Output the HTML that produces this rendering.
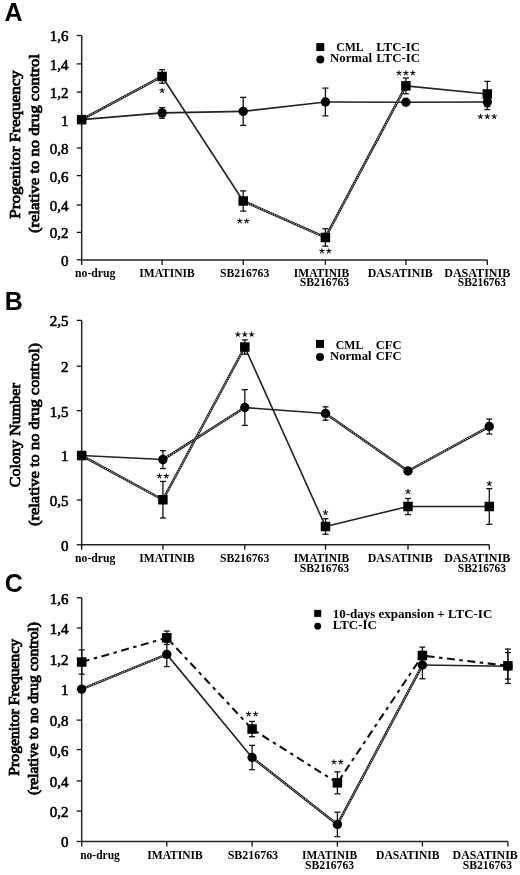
<!DOCTYPE html>
<html><head><meta charset="utf-8"><style>
html,body{margin:0;padding:0;background:#fff;}
body{width:520px;height:875px;overflow:hidden;}
svg{display:block;filter:grayscale(1);}
</style></head><body>
<svg width="520" height="875" viewBox="0 0 520 875">
<rect width="520" height="875" fill="#fff"/>
<text x="4.5" y="20.8" font-family='"Liberation Sans", sans-serif' font-size="25" font-weight="bold" text-anchor="start" >A</text><text x="4.8" y="310" font-family='"Liberation Sans", sans-serif' font-size="25" font-weight="bold" text-anchor="start" >B</text><text x="4.8" y="592" font-family='"Liberation Sans", sans-serif' font-size="25" font-weight="bold" text-anchor="start" >C</text><text transform="translate(19.6,144.4) rotate(-90)" x="0" y="0" font-family='"Liberation Serif", serif' font-size="15" font-weight="normal" stroke="#000" stroke-width="0.8" text-anchor="middle" textLength="148.5" lengthAdjust="spacingAndGlyphs">Progenitor Frequency</text><text transform="translate(39.0,143.6) rotate(-90)" x="0" y="0" font-family='"Liberation Serif", serif' font-size="15" font-weight="normal" stroke="#000" stroke-width="0.8" text-anchor="middle" textLength="179" lengthAdjust="spacingAndGlyphs">(relative to no drug control</text><text transform="translate(20.4,435.2) rotate(-90)" x="0" y="0" font-family='"Liberation Serif", serif' font-size="14.6" font-weight="normal" stroke="#000" stroke-width="0.8" text-anchor="middle" textLength="104" lengthAdjust="spacingAndGlyphs">Colony Number</text><text transform="translate(38.7,434.5) rotate(-90)" x="0" y="0" font-family='"Liberation Serif", serif' font-size="14.6" font-weight="normal" stroke="#000" stroke-width="0.8" text-anchor="middle" textLength="183" lengthAdjust="spacingAndGlyphs">(relative to no drug control)</text><text transform="translate(18.6,707.3) rotate(-90)" x="0" y="0" font-family='"Liberation Serif", serif' font-size="14.2" font-weight="normal" stroke="#000" stroke-width="0.8" text-anchor="middle" textLength="136.7" lengthAdjust="spacingAndGlyphs">Progenitor Frequency</text><text transform="translate(38.2,708.5) rotate(-90)" x="0" y="0" font-family='"Liberation Serif", serif' font-size="14.2" font-weight="normal" stroke="#000" stroke-width="0.8" text-anchor="middle" textLength="173" lengthAdjust="spacingAndGlyphs">(relative to no drug control)</text><line x1="81.7" y1="35.5" x2="81.7" y2="259.9" stroke="#222" stroke-width="1.5"/><line x1="80.95" y1="259.9" x2="487.3" y2="259.9" stroke="#222" stroke-width="1.5"/><line x1="76.7" y1="259.8" x2="81.7" y2="259.8" stroke="#111" stroke-width="1.3"/><text x="68.5" y="265.7" font-family='"Liberation Serif", serif' font-size="15" font-weight="normal" text-anchor="end" stroke="#000" stroke-width="0.55">0</text><line x1="76.7" y1="232.4" x2="81.7" y2="232.4" stroke="#111" stroke-width="1.3"/><text x="68.5" y="238.3" font-family='"Liberation Serif", serif' font-size="15" font-weight="normal" text-anchor="end" stroke="#000" stroke-width="0.55">0,2</text><line x1="76.7" y1="205.0" x2="81.7" y2="205.0" stroke="#111" stroke-width="1.3"/><text x="68.5" y="210.9" font-family='"Liberation Serif", serif' font-size="15" font-weight="normal" text-anchor="end" stroke="#000" stroke-width="0.55">0,4</text><line x1="76.7" y1="175.6" x2="81.7" y2="175.6" stroke="#111" stroke-width="1.3"/><text x="68.5" y="181.5" font-family='"Liberation Serif", serif' font-size="15" font-weight="normal" text-anchor="end" stroke="#000" stroke-width="0.55">0,6</text><line x1="76.7" y1="148.0" x2="81.7" y2="148.0" stroke="#111" stroke-width="1.3"/><text x="68.5" y="153.9" font-family='"Liberation Serif", serif' font-size="15" font-weight="normal" text-anchor="end" stroke="#000" stroke-width="0.55">0,8</text><line x1="76.7" y1="119.8" x2="81.7" y2="119.8" stroke="#111" stroke-width="1.3"/><text x="68.5" y="125.7" font-family='"Liberation Serif", serif' font-size="15" font-weight="normal" text-anchor="end" stroke="#000" stroke-width="0.55">1</text><line x1="76.7" y1="92.1" x2="81.7" y2="92.1" stroke="#111" stroke-width="1.3"/><text x="68.5" y="98.0" font-family='"Liberation Serif", serif' font-size="15" font-weight="normal" text-anchor="end" stroke="#000" stroke-width="0.55">1,2</text><line x1="76.7" y1="63.9" x2="81.7" y2="63.9" stroke="#111" stroke-width="1.3"/><text x="68.5" y="69.8" font-family='"Liberation Serif", serif' font-size="15" font-weight="normal" text-anchor="end" stroke="#000" stroke-width="0.55">1,4</text><line x1="76.7" y1="35.5" x2="81.7" y2="35.5" stroke="#111" stroke-width="1.3"/><text x="68.5" y="41.4" font-family='"Liberation Serif", serif' font-size="15" font-weight="normal" text-anchor="end" stroke="#000" stroke-width="0.55">1,6</text><line x1="81.7" y1="259.9" x2="81.7" y2="264.9" stroke="#111" stroke-width="1.3"/><line x1="162.1" y1="259.9" x2="162.1" y2="264.9" stroke="#111" stroke-width="1.3"/><line x1="243.2" y1="259.9" x2="243.2" y2="264.9" stroke="#111" stroke-width="1.3"/><line x1="325.4" y1="259.9" x2="325.4" y2="264.9" stroke="#111" stroke-width="1.3"/><line x1="405.9" y1="259.9" x2="405.9" y2="264.9" stroke="#111" stroke-width="1.3"/><line x1="487.3" y1="259.9" x2="487.3" y2="264.9" stroke="#111" stroke-width="1.3"/><path d="M81.70,119.65 L162.10,112.92" fill="none" stroke="#222" stroke-width="1.6" stroke-linejoin="round"/><path d="M162.10,112.92 L243.20,111.38" fill="none" stroke="#222" stroke-width="1.6" stroke-linejoin="round"/><path d="M243.20,111.38 L325.40,101.98" fill="none" stroke="#222" stroke-width="1.6" stroke-linejoin="round"/><path d="M325.40,101.98 L405.90,102.26" fill="none" stroke="#222" stroke-width="1.6" stroke-linejoin="round"/><path d="M405.90,102.26 L487.30,101.98" fill="none" stroke="#222" stroke-width="1.6" stroke-linejoin="round"/><path d="M162.10,76.45 L243.20,201.00" fill="none" stroke="#222" stroke-width="1.6" stroke-linejoin="round"/><path d="M405.90,85.85 L487.30,93.98" fill="none" stroke="#222" stroke-width="1.6" stroke-linejoin="round"/><path d="M81.70,119.65 L162.10,76.45" fill="none" stroke="#1a1a1a" stroke-width="2.5" stroke-linejoin="round"/><path d="M81.70,119.65 L162.10,76.45" fill="none" stroke="#fff" stroke-opacity="0.85" stroke-width="0.9" stroke-dasharray="1.3 1.1"/><path d="M243.20,201.00 L325.40,237.46" fill="none" stroke="#1a1a1a" stroke-width="2.5" stroke-linejoin="round"/><path d="M243.20,201.00 L325.40,237.46" fill="none" stroke="#fff" stroke-opacity="0.85" stroke-width="0.9" stroke-dasharray="1.3 1.1"/><path d="M325.40,237.46 L405.90,85.85" fill="none" stroke="#1a1a1a" stroke-width="2.5" stroke-linejoin="round"/><path d="M325.40,237.46 L405.90,85.85" fill="none" stroke="#fff" stroke-opacity="0.85" stroke-width="0.9" stroke-dasharray="1.3 1.1"/><line x1="162.1" y1="107.58850000000001" x2="162.1" y2="118.2475" stroke="#111" stroke-width="1.3"/><line x1="159.1" y1="107.58850000000001" x2="165.1" y2="107.58850000000001" stroke="#111" stroke-width="1.3"/><line x1="159.1" y1="118.2475" x2="165.1" y2="118.2475" stroke="#111" stroke-width="1.3"/><line x1="162.1" y1="69.721" x2="162.1" y2="83.185" stroke="#111" stroke-width="1.3"/><line x1="159.1" y1="69.721" x2="165.1" y2="69.721" stroke="#111" stroke-width="1.3"/><line x1="159.1" y1="83.185" x2="165.1" y2="83.185" stroke="#111" stroke-width="1.3"/><line x1="243.2" y1="97.35025000000002" x2="243.2" y2="125.40025" stroke="#111" stroke-width="1.3"/><line x1="240.2" y1="97.35025000000002" x2="246.2" y2="97.35025000000002" stroke="#111" stroke-width="1.3"/><line x1="240.2" y1="125.40025" x2="246.2" y2="125.40025" stroke="#111" stroke-width="1.3"/><line x1="243.2" y1="190.897" x2="243.2" y2="211.093" stroke="#111" stroke-width="1.3"/><line x1="240.2" y1="190.897" x2="246.2" y2="190.897" stroke="#111" stroke-width="1.3"/><line x1="240.2" y1="211.093" x2="246.2" y2="211.093" stroke="#111" stroke-width="1.3"/><line x1="325.4" y1="88.09375000000003" x2="325.4" y2="115.86325000000002" stroke="#111" stroke-width="1.3"/><line x1="322.4" y1="88.09375000000003" x2="328.4" y2="88.09375000000003" stroke="#111" stroke-width="1.3"/><line x1="322.4" y1="115.86325000000002" x2="328.4" y2="115.86325000000002" stroke="#111" stroke-width="1.3"/><line x1="325.4" y1="228.7645" x2="325.4" y2="246.1555" stroke="#111" stroke-width="1.3"/><line x1="322.4" y1="228.7645" x2="328.4" y2="228.7645" stroke="#111" stroke-width="1.3"/><line x1="322.4" y1="246.1555" x2="328.4" y2="246.1555" stroke="#111" stroke-width="1.3"/><line x1="405.9" y1="77.99574999999999" x2="405.9" y2="93.70375000000001" stroke="#111" stroke-width="1.3"/><line x1="402.9" y1="77.99574999999999" x2="408.9" y2="77.99574999999999" stroke="#111" stroke-width="1.3"/><line x1="402.9" y1="93.70375000000001" x2="408.9" y2="93.70375000000001" stroke="#111" stroke-width="1.3"/><line x1="487.3" y1="94.40500000000003" x2="487.3" y2="109.55200000000002" stroke="#111" stroke-width="1.3"/><line x1="484.3" y1="94.40500000000003" x2="490.3" y2="94.40500000000003" stroke="#111" stroke-width="1.3"/><line x1="484.3" y1="109.55200000000002" x2="490.3" y2="109.55200000000002" stroke="#111" stroke-width="1.3"/><line x1="487.3" y1="81.36175" x2="487.3" y2="106.60675" stroke="#111" stroke-width="1.3"/><line x1="484.3" y1="81.36175" x2="490.3" y2="81.36175" stroke="#111" stroke-width="1.3"/><line x1="484.3" y1="106.60675" x2="490.3" y2="106.60675" stroke="#111" stroke-width="1.3"/><circle cx="81.70" cy="119.65" r="4.7" fill="#000"/><rect x="76.95" y="114.90" width="9.5" height="9.5" fill="#000"/><circle cx="162.10" cy="112.92" r="4.7" fill="#000"/><rect x="157.35" y="71.70" width="9.5" height="9.5" fill="#000"/><circle cx="243.20" cy="111.38" r="4.7" fill="#000"/><rect x="238.45" y="196.25" width="9.5" height="9.5" fill="#000"/><circle cx="325.40" cy="101.98" r="4.7" fill="#000"/><rect x="320.65" y="232.71" width="9.5" height="9.5" fill="#000"/><circle cx="405.90" cy="102.26" r="4.7" fill="#000"/><rect x="401.15" y="81.10" width="9.5" height="9.5" fill="#000"/><circle cx="487.30" cy="101.98" r="4.7" fill="#000"/><rect x="482.55" y="89.23" width="9.5" height="9.5" fill="#000"/><path d="M162.10,90.60 L162.10,88.25 M162.10,90.60 L164.33,89.87 M162.10,90.60 L163.48,92.50 M162.10,90.60 L160.72,92.50 M162.10,90.60 L159.87,89.87 " stroke="#111" stroke-width="1.05" stroke-linecap="round" fill="none"/><path d="M239.75,221.00 L239.75,218.65 M239.75,221.00 L241.98,220.27 M239.75,221.00 L241.13,222.90 M239.75,221.00 L238.37,222.90 M239.75,221.00 L237.52,220.27 " stroke="#111" stroke-width="1.05" stroke-linecap="round" fill="none"/><path d="M246.65,221.00 L246.65,218.65 M246.65,221.00 L248.88,220.27 M246.65,221.00 L248.03,222.90 M246.65,221.00 L245.27,222.90 M246.65,221.00 L244.42,220.27 " stroke="#111" stroke-width="1.05" stroke-linecap="round" fill="none"/><path d="M321.95,251.00 L321.95,248.65 M321.95,251.00 L324.18,250.27 M321.95,251.00 L323.33,252.90 M321.95,251.00 L320.57,252.90 M321.95,251.00 L319.72,250.27 " stroke="#111" stroke-width="1.05" stroke-linecap="round" fill="none"/><path d="M328.85,251.00 L328.85,248.65 M328.85,251.00 L331.08,250.27 M328.85,251.00 L330.23,252.90 M328.85,251.00 L327.47,252.90 M328.85,251.00 L326.62,250.27 " stroke="#111" stroke-width="1.05" stroke-linecap="round" fill="none"/><path d="M399.00,73.00 L399.00,70.65 M399.00,73.00 L401.23,72.27 M399.00,73.00 L400.38,74.90 M399.00,73.00 L397.62,74.90 M399.00,73.00 L396.77,72.27 " stroke="#111" stroke-width="1.05" stroke-linecap="round" fill="none"/><path d="M405.90,73.00 L405.90,70.65 M405.90,73.00 L408.13,72.27 M405.90,73.00 L407.28,74.90 M405.90,73.00 L404.52,74.90 M405.90,73.00 L403.67,72.27 " stroke="#111" stroke-width="1.05" stroke-linecap="round" fill="none"/><path d="M412.80,73.00 L412.80,70.65 M412.80,73.00 L415.03,72.27 M412.80,73.00 L414.18,74.90 M412.80,73.00 L411.42,74.90 M412.80,73.00 L410.57,72.27 " stroke="#111" stroke-width="1.05" stroke-linecap="round" fill="none"/><path d="M480.40,116.50 L480.40,114.15 M480.40,116.50 L482.63,115.77 M480.40,116.50 L481.78,118.40 M480.40,116.50 L479.02,118.40 M480.40,116.50 L478.17,115.77 " stroke="#111" stroke-width="1.05" stroke-linecap="round" fill="none"/><path d="M487.30,116.50 L487.30,114.15 M487.30,116.50 L489.53,115.77 M487.30,116.50 L488.68,118.40 M487.30,116.50 L485.92,118.40 M487.30,116.50 L485.07,115.77 " stroke="#111" stroke-width="1.05" stroke-linecap="round" fill="none"/><path d="M494.20,116.50 L494.20,114.15 M494.20,116.50 L496.43,115.77 M494.20,116.50 L495.58,118.40 M494.20,116.50 L492.82,118.40 M494.20,116.50 L491.97,115.77 " stroke="#111" stroke-width="1.05" stroke-linecap="round" fill="none"/><line x1="81.7" y1="320.4" x2="81.7" y2="544.8" stroke="#222" stroke-width="1.5"/><line x1="80.95" y1="544.8" x2="489.3" y2="544.8" stroke="#222" stroke-width="1.5"/><line x1="76.7" y1="544.8" x2="81.7" y2="544.8" stroke="#111" stroke-width="1.3"/><text x="68.5" y="550.6999999999999" font-family='"Liberation Serif", serif' font-size="15" font-weight="normal" text-anchor="end" stroke="#000" stroke-width="0.6">0</text><line x1="76.7" y1="500.0" x2="81.7" y2="500.0" stroke="#111" stroke-width="1.3"/><text x="68.5" y="505.9" font-family='"Liberation Serif", serif' font-size="15" font-weight="normal" text-anchor="end" stroke="#000" stroke-width="0.6">0,5</text><line x1="76.7" y1="455.4" x2="81.7" y2="455.4" stroke="#111" stroke-width="1.3"/><text x="68.5" y="461.29999999999995" font-family='"Liberation Serif", serif' font-size="15" font-weight="normal" text-anchor="end" stroke="#000" stroke-width="0.6">1</text><line x1="76.7" y1="410.7" x2="81.7" y2="410.7" stroke="#111" stroke-width="1.3"/><text x="68.5" y="416.59999999999997" font-family='"Liberation Serif", serif' font-size="15" font-weight="normal" text-anchor="end" stroke="#000" stroke-width="0.6">1,5</text><line x1="76.7" y1="366.3" x2="81.7" y2="366.3" stroke="#111" stroke-width="1.3"/><text x="68.5" y="372.2" font-family='"Liberation Serif", serif' font-size="15" font-weight="normal" text-anchor="end" stroke="#000" stroke-width="0.6">2</text><line x1="76.7" y1="320.4" x2="81.7" y2="320.4" stroke="#111" stroke-width="1.3"/><text x="68.5" y="326.29999999999995" font-family='"Liberation Serif", serif' font-size="15" font-weight="normal" text-anchor="end" stroke="#000" stroke-width="0.6">2,5</text><line x1="81.7" y1="544.8" x2="81.7" y2="549.8" stroke="#111" stroke-width="1.3"/><line x1="162.9" y1="544.8" x2="162.9" y2="549.8" stroke="#111" stroke-width="1.3"/><line x1="244.8" y1="544.8" x2="244.8" y2="549.8" stroke="#111" stroke-width="1.3"/><line x1="325.5" y1="544.8" x2="325.5" y2="549.8" stroke="#111" stroke-width="1.3"/><line x1="408.0" y1="544.8" x2="408.0" y2="549.8" stroke="#111" stroke-width="1.3"/><line x1="489.3" y1="544.8" x2="489.3" y2="549.8" stroke="#111" stroke-width="1.3"/><path d="M81.70,455.55 L162.90,459.57" fill="none" stroke="#222" stroke-width="1.6" stroke-linejoin="round"/><path d="M244.80,407.53 L325.50,413.51" fill="none" stroke="#222" stroke-width="1.6" stroke-linejoin="round"/><path d="M162.90,459.57 L244.80,407.53" fill="none" stroke="#1a1a1a" stroke-width="2.5" stroke-linejoin="round"/><path d="M162.90,459.57 L244.80,407.53" fill="none" stroke="#fff" stroke-opacity="0.85" stroke-width="0.9" stroke-dasharray="1.3 1.1"/><path d="M325.50,413.51 L408.00,470.99" fill="none" stroke="#1a1a1a" stroke-width="2.5" stroke-linejoin="round"/><path d="M325.50,413.51 L408.00,470.99" fill="none" stroke="#fff" stroke-opacity="0.85" stroke-width="0.9" stroke-dasharray="1.3 1.1"/><path d="M408.00,470.99 L489.30,426.54" fill="none" stroke="#1a1a1a" stroke-width="2.5" stroke-linejoin="round"/><path d="M408.00,470.99 L489.30,426.54" fill="none" stroke="#fff" stroke-opacity="0.85" stroke-width="0.9" stroke-dasharray="1.3 1.1"/><path d="M244.80,347.02 L325.50,526.50" fill="none" stroke="#222" stroke-width="1.6" stroke-linejoin="round"/><path d="M325.50,526.50 L408.00,506.51" fill="none" stroke="#222" stroke-width="1.6" stroke-linejoin="round"/><path d="M408.00,506.51 L489.30,506.51" fill="none" stroke="#222" stroke-width="1.6" stroke-linejoin="round"/><path d="M81.70,455.55 L162.90,499.73" fill="none" stroke="#1a1a1a" stroke-width="2.5" stroke-linejoin="round"/><path d="M81.70,455.55 L162.90,499.73" fill="none" stroke="#fff" stroke-opacity="0.85" stroke-width="0.9" stroke-dasharray="1.3 1.1"/><path d="M162.90,499.73 L244.80,347.02" fill="none" stroke="#1a1a1a" stroke-width="2.5" stroke-linejoin="round"/><path d="M162.90,499.73 L244.80,347.02" fill="none" stroke="#fff" stroke-opacity="0.85" stroke-width="0.9" stroke-dasharray="1.3 1.1"/><line x1="162.9" y1="450.64124999999996" x2="162.9" y2="468.4912499999999" stroke="#111" stroke-width="1.3"/><line x1="159.9" y1="450.64124999999996" x2="165.9" y2="450.64124999999996" stroke="#111" stroke-width="1.3"/><line x1="159.9" y1="468.4912499999999" x2="165.9" y2="468.4912499999999" stroke="#111" stroke-width="1.3"/><line x1="162.9" y1="481.43249999999995" x2="162.9" y2="518.025" stroke="#111" stroke-width="1.3"/><line x1="159.9" y1="481.43249999999995" x2="165.9" y2="481.43249999999995" stroke="#111" stroke-width="1.3"/><line x1="159.9" y1="518.025" x2="165.9" y2="518.025" stroke="#111" stroke-width="1.3"/><line x1="244.8" y1="389.6835" x2="244.8" y2="425.3834999999999" stroke="#111" stroke-width="1.3"/><line x1="241.8" y1="389.6835" x2="247.8" y2="389.6835" stroke="#111" stroke-width="1.3"/><line x1="241.8" y1="425.3834999999999" x2="247.8" y2="425.3834999999999" stroke="#111" stroke-width="1.3"/><line x1="244.8" y1="339.88199999999995" x2="244.8" y2="354.1619999999999" stroke="#111" stroke-width="1.3"/><line x1="241.8" y1="339.88199999999995" x2="247.8" y2="339.88199999999995" stroke="#111" stroke-width="1.3"/><line x1="241.8" y1="354.1619999999999" x2="247.8" y2="354.1619999999999" stroke="#111" stroke-width="1.3"/><line x1="325.5" y1="406.81949999999995" x2="325.5" y2="420.20699999999994" stroke="#111" stroke-width="1.3"/><line x1="322.5" y1="406.81949999999995" x2="328.5" y2="406.81949999999995" stroke="#111" stroke-width="1.3"/><line x1="322.5" y1="420.20699999999994" x2="328.5" y2="420.20699999999994" stroke="#111" stroke-width="1.3"/><line x1="325.5" y1="518.7389999999999" x2="325.5" y2="534.2684999999999" stroke="#111" stroke-width="1.3"/><line x1="322.5" y1="518.7389999999999" x2="328.5" y2="518.7389999999999" stroke="#111" stroke-width="1.3"/><line x1="322.5" y1="534.2684999999999" x2="328.5" y2="534.2684999999999" stroke="#111" stroke-width="1.3"/><line x1="408.0" y1="468.31274999999994" x2="408.0" y2="473.66774999999996" stroke="#111" stroke-width="1.3"/><line x1="405.0" y1="468.31274999999994" x2="411.0" y2="468.31274999999994" stroke="#111" stroke-width="1.3"/><line x1="405.0" y1="473.66774999999996" x2="411.0" y2="473.66774999999996" stroke="#111" stroke-width="1.3"/><line x1="408.0" y1="498.47925" x2="408.0" y2="514.5442499999999" stroke="#111" stroke-width="1.3"/><line x1="405.0" y1="498.47925" x2="411.0" y2="498.47925" stroke="#111" stroke-width="1.3"/><line x1="405.0" y1="514.5442499999999" x2="411.0" y2="514.5442499999999" stroke="#111" stroke-width="1.3"/><line x1="489.3" y1="419.04675" x2="489.3" y2="434.04074999999995" stroke="#111" stroke-width="1.3"/><line x1="486.3" y1="419.04675" x2="492.3" y2="419.04675" stroke="#111" stroke-width="1.3"/><line x1="486.3" y1="434.04074999999995" x2="492.3" y2="434.04074999999995" stroke="#111" stroke-width="1.3"/><line x1="489.3" y1="488.66175" x2="489.3" y2="524.3617499999999" stroke="#111" stroke-width="1.3"/><line x1="486.3" y1="488.66175" x2="492.3" y2="488.66175" stroke="#111" stroke-width="1.3"/><line x1="486.3" y1="524.3617499999999" x2="492.3" y2="524.3617499999999" stroke="#111" stroke-width="1.3"/><circle cx="81.70" cy="455.55" r="4.7" fill="#000"/><rect x="76.95" y="450.80" width="9.5" height="9.5" fill="#000"/><circle cx="162.90" cy="459.57" r="4.7" fill="#000"/><rect x="158.15" y="494.98" width="9.5" height="9.5" fill="#000"/><circle cx="244.80" cy="407.53" r="4.7" fill="#000"/><rect x="240.05" y="342.27" width="9.5" height="9.5" fill="#000"/><circle cx="325.50" cy="413.51" r="4.7" fill="#000"/><rect x="320.75" y="521.75" width="9.5" height="9.5" fill="#000"/><circle cx="408.00" cy="470.99" r="4.7" fill="#000"/><rect x="403.25" y="501.76" width="9.5" height="9.5" fill="#000"/><circle cx="489.30" cy="426.54" r="4.7" fill="#000"/><rect x="484.55" y="501.76" width="9.5" height="9.5" fill="#000"/><path d="M159.45,476.00 L159.45,473.65 M159.45,476.00 L161.68,475.27 M159.45,476.00 L160.83,477.90 M159.45,476.00 L158.07,477.90 M159.45,476.00 L157.22,475.27 " stroke="#111" stroke-width="1.05" stroke-linecap="round" fill="none"/><path d="M166.35,476.00 L166.35,473.65 M166.35,476.00 L168.58,475.27 M166.35,476.00 L167.73,477.90 M166.35,476.00 L164.97,477.90 M166.35,476.00 L164.12,475.27 " stroke="#111" stroke-width="1.05" stroke-linecap="round" fill="none"/><path d="M237.90,334.40 L237.90,332.05 M237.90,334.40 L240.13,333.67 M237.90,334.40 L239.28,336.30 M237.90,334.40 L236.52,336.30 M237.90,334.40 L235.67,333.67 " stroke="#111" stroke-width="1.05" stroke-linecap="round" fill="none"/><path d="M244.80,334.40 L244.80,332.05 M244.80,334.40 L247.03,333.67 M244.80,334.40 L246.18,336.30 M244.80,334.40 L243.42,336.30 M244.80,334.40 L242.57,333.67 " stroke="#111" stroke-width="1.05" stroke-linecap="round" fill="none"/><path d="M251.70,334.40 L251.70,332.05 M251.70,334.40 L253.93,333.67 M251.70,334.40 L253.08,336.30 M251.70,334.40 L250.32,336.30 M251.70,334.40 L249.47,333.67 " stroke="#111" stroke-width="1.05" stroke-linecap="round" fill="none"/><path d="M325.50,512.50 L325.50,510.15 M325.50,512.50 L327.73,511.77 M325.50,512.50 L326.88,514.40 M325.50,512.50 L324.12,514.40 M325.50,512.50 L323.27,511.77 " stroke="#111" stroke-width="1.05" stroke-linecap="round" fill="none"/><path d="M408.00,491.50 L408.00,489.15 M408.00,491.50 L410.23,490.77 M408.00,491.50 L409.38,493.40 M408.00,491.50 L406.62,493.40 M408.00,491.50 L405.77,490.77 " stroke="#111" stroke-width="1.05" stroke-linecap="round" fill="none"/><path d="M489.30,483.50 L489.30,481.15 M489.30,483.50 L491.53,482.77 M489.30,483.50 L490.68,485.40 M489.30,483.50 L487.92,485.40 M489.30,483.50 L487.07,482.77 " stroke="#111" stroke-width="1.05" stroke-linecap="round" fill="none"/><line x1="81.7" y1="597.7" x2="81.7" y2="841.5" stroke="#222" stroke-width="1.5"/><line x1="80.95" y1="841.5" x2="507.9" y2="841.5" stroke="#222" stroke-width="1.5"/><line x1="76.7" y1="841.5" x2="81.7" y2="841.5" stroke="#111" stroke-width="1.3"/><text x="68.5" y="847.4" font-family='"Liberation Serif", serif' font-size="15" font-weight="normal" text-anchor="end" stroke="#000" stroke-width="0.6">0</text><line x1="76.7" y1="811.1" x2="81.7" y2="811.1" stroke="#111" stroke-width="1.3"/><text x="68.5" y="817.0" font-family='"Liberation Serif", serif' font-size="15" font-weight="normal" text-anchor="end" stroke="#000" stroke-width="0.6">0,2</text><line x1="76.7" y1="780.9" x2="81.7" y2="780.9" stroke="#111" stroke-width="1.3"/><text x="68.5" y="786.8" font-family='"Liberation Serif", serif' font-size="15" font-weight="normal" text-anchor="end" stroke="#000" stroke-width="0.6">0,4</text><line x1="76.7" y1="749.6" x2="81.7" y2="749.6" stroke="#111" stroke-width="1.3"/><text x="68.5" y="755.5" font-family='"Liberation Serif", serif' font-size="15" font-weight="normal" text-anchor="end" stroke="#000" stroke-width="0.6">0,6</text><line x1="76.7" y1="720.1" x2="81.7" y2="720.1" stroke="#111" stroke-width="1.3"/><text x="68.5" y="726.0" font-family='"Liberation Serif", serif' font-size="15" font-weight="normal" text-anchor="end" stroke="#000" stroke-width="0.6">0,8</text><line x1="76.7" y1="689.4" x2="81.7" y2="689.4" stroke="#111" stroke-width="1.3"/><text x="68.5" y="695.3" font-family='"Liberation Serif", serif' font-size="15" font-weight="normal" text-anchor="end" stroke="#000" stroke-width="0.6">1</text><line x1="76.7" y1="658.8" x2="81.7" y2="658.8" stroke="#111" stroke-width="1.3"/><text x="68.5" y="664.6999999999999" font-family='"Liberation Serif", serif' font-size="15" font-weight="normal" text-anchor="end" stroke="#000" stroke-width="0.6">1,2</text><line x1="76.7" y1="628.0" x2="81.7" y2="628.0" stroke="#111" stroke-width="1.3"/><text x="68.5" y="633.9" font-family='"Liberation Serif", serif' font-size="15" font-weight="normal" text-anchor="end" stroke="#000" stroke-width="0.6">1,4</text><line x1="76.7" y1="597.7" x2="81.7" y2="597.7" stroke="#111" stroke-width="1.3"/><text x="68.5" y="603.6" font-family='"Liberation Serif", serif' font-size="15" font-weight="normal" text-anchor="end" stroke="#000" stroke-width="0.6">1,6</text><line x1="81.7" y1="841.5" x2="81.7" y2="846.5" stroke="#111" stroke-width="1.3"/><line x1="166.8" y1="841.5" x2="166.8" y2="846.5" stroke="#111" stroke-width="1.3"/><line x1="252.1" y1="841.5" x2="252.1" y2="846.5" stroke="#111" stroke-width="1.3"/><line x1="337.4" y1="841.5" x2="337.4" y2="846.5" stroke="#111" stroke-width="1.3"/><line x1="422.4" y1="841.5" x2="422.4" y2="846.5" stroke="#111" stroke-width="1.3"/><line x1="507.9" y1="841.5" x2="507.9" y2="846.5" stroke="#111" stroke-width="1.3"/><path d="M166.80,654.38 L252.10,757.54" fill="none" stroke="#222" stroke-width="1.6" stroke-linejoin="round"/><path d="M422.40,665.05 L507.90,666.27" fill="none" stroke="#222" stroke-width="1.6" stroke-linejoin="round"/><path d="M81.70,689.12 L166.80,654.38" fill="none" stroke="#1a1a1a" stroke-width="2.5" stroke-linejoin="round"/><path d="M81.70,689.12 L166.80,654.38" fill="none" stroke="#fff" stroke-opacity="0.85" stroke-width="0.9" stroke-dasharray="1.3 1.1"/><path d="M252.10,757.54 L337.40,824.43" fill="none" stroke="#1a1a1a" stroke-width="2.5" stroke-linejoin="round"/><path d="M252.10,757.54 L337.40,824.43" fill="none" stroke="#fff" stroke-opacity="0.85" stroke-width="0.9" stroke-dasharray="1.3 1.1"/><path d="M337.40,824.43 L422.40,665.05" fill="none" stroke="#1a1a1a" stroke-width="2.5" stroke-linejoin="round"/><path d="M337.40,824.43 L422.40,665.05" fill="none" stroke="#fff" stroke-opacity="0.85" stroke-width="0.9" stroke-dasharray="1.3 1.1"/><path d="M81.70,662.00 L166.80,637.77 L252.10,729.05 L337.40,782.84 L422.40,655.60 L507.90,665.81" fill="none" stroke="#111" stroke-width="2.1" stroke-dasharray="8 4.5 3.5 4.5"/><line x1="81.7" y1="649.8122500000001" x2="81.7" y2="674.1922500000001" stroke="#111" stroke-width="1.3"/><line x1="78.7" y1="649.8122500000001" x2="84.7" y2="649.8122500000001" stroke="#111" stroke-width="1.3"/><line x1="78.7" y1="674.1922500000001" x2="84.7" y2="674.1922500000001" stroke="#111" stroke-width="1.3"/><line x1="166.8" y1="642.1935000000001" x2="166.8" y2="666.5735000000001" stroke="#111" stroke-width="1.3"/><line x1="163.8" y1="642.1935000000001" x2="169.8" y2="642.1935000000001" stroke="#111" stroke-width="1.3"/><line x1="163.8" y1="666.5735000000001" x2="169.8" y2="666.5735000000001" stroke="#111" stroke-width="1.3"/><line x1="166.8" y1="631.0701250000001" x2="166.8" y2="644.4791250000001" stroke="#111" stroke-width="1.3"/><line x1="163.8" y1="631.0701250000001" x2="169.8" y2="631.0701250000001" stroke="#111" stroke-width="1.3"/><line x1="163.8" y1="644.4791250000001" x2="169.8" y2="644.4791250000001" stroke="#111" stroke-width="1.3"/><line x1="252.1" y1="745.351375" x2="252.1" y2="769.7313750000001" stroke="#111" stroke-width="1.3"/><line x1="249.1" y1="745.351375" x2="255.1" y2="745.351375" stroke="#111" stroke-width="1.3"/><line x1="249.1" y1="769.7313750000001" x2="255.1" y2="769.7313750000001" stroke="#111" stroke-width="1.3"/><line x1="252.1" y1="721.4285" x2="252.1" y2="736.666" stroke="#111" stroke-width="1.3"/><line x1="249.1" y1="721.4285" x2="255.1" y2="721.4285" stroke="#111" stroke-width="1.3"/><line x1="249.1" y1="736.666" x2="255.1" y2="736.666" stroke="#111" stroke-width="1.3"/><line x1="337.4" y1="812.244" x2="337.4" y2="836.624" stroke="#111" stroke-width="1.3"/><line x1="334.4" y1="812.244" x2="340.4" y2="812.244" stroke="#111" stroke-width="1.3"/><line x1="334.4" y1="836.624" x2="340.4" y2="836.624" stroke="#111" stroke-width="1.3"/><line x1="337.4" y1="771.864625" x2="337.4" y2="793.806625" stroke="#111" stroke-width="1.3"/><line x1="334.4" y1="771.864625" x2="340.4" y2="771.864625" stroke="#111" stroke-width="1.3"/><line x1="334.4" y1="793.806625" x2="340.4" y2="793.806625" stroke="#111" stroke-width="1.3"/><line x1="422.4" y1="651.336" x2="422.4" y2="678.7635" stroke="#111" stroke-width="1.3"/><line x1="419.4" y1="651.336" x2="425.4" y2="651.336" stroke="#111" stroke-width="1.3"/><line x1="419.4" y1="678.7635" x2="425.4" y2="678.7635" stroke="#111" stroke-width="1.3"/><line x1="422.4" y1="647.0695000000001" x2="422.4" y2="664.1355000000001" stroke="#111" stroke-width="1.3"/><line x1="419.4" y1="647.0695000000001" x2="425.4" y2="647.0695000000001" stroke="#111" stroke-width="1.3"/><line x1="419.4" y1="664.1355000000001" x2="425.4" y2="664.1355000000001" stroke="#111" stroke-width="1.3"/><line x1="507.9" y1="649.050375" x2="507.9" y2="683.4871250000001" stroke="#111" stroke-width="1.3"/><line x1="504.9" y1="649.050375" x2="510.9" y2="649.050375" stroke="#111" stroke-width="1.3"/><line x1="504.9" y1="683.4871250000001" x2="510.9" y2="683.4871250000001" stroke="#111" stroke-width="1.3"/><line x1="507.9" y1="652.5550000000001" x2="507.9" y2="679.06825" stroke="#111" stroke-width="1.3"/><line x1="504.9" y1="652.5550000000001" x2="510.9" y2="652.5550000000001" stroke="#111" stroke-width="1.3"/><line x1="504.9" y1="679.06825" x2="510.9" y2="679.06825" stroke="#111" stroke-width="1.3"/><circle cx="81.70" cy="689.12" r="4.7" fill="#000"/><rect x="76.95" y="657.25" width="9.5" height="9.5" fill="#000"/><circle cx="166.80" cy="654.38" r="4.7" fill="#000"/><rect x="162.05" y="633.02" width="9.5" height="9.5" fill="#000"/><circle cx="252.10" cy="757.54" r="4.7" fill="#000"/><rect x="247.35" y="724.30" width="9.5" height="9.5" fill="#000"/><circle cx="337.40" cy="824.43" r="4.7" fill="#000"/><rect x="332.65" y="778.09" width="9.5" height="9.5" fill="#000"/><circle cx="422.40" cy="665.05" r="4.7" fill="#000"/><rect x="417.65" y="650.85" width="9.5" height="9.5" fill="#000"/><circle cx="507.90" cy="666.27" r="4.7" fill="#000"/><rect x="503.15" y="661.06" width="9.5" height="9.5" fill="#000"/><path d="M248.65,714.00 L248.65,711.65 M248.65,714.00 L250.88,713.27 M248.65,714.00 L250.03,715.90 M248.65,714.00 L247.27,715.90 M248.65,714.00 L246.42,713.27 " stroke="#111" stroke-width="1.05" stroke-linecap="round" fill="none"/><path d="M255.55,714.00 L255.55,711.65 M255.55,714.00 L257.78,713.27 M255.55,714.00 L256.93,715.90 M255.55,714.00 L254.17,715.90 M255.55,714.00 L253.32,713.27 " stroke="#111" stroke-width="1.05" stroke-linecap="round" fill="none"/><path d="M333.95,762.00 L333.95,759.65 M333.95,762.00 L336.18,761.27 M333.95,762.00 L335.33,763.90 M333.95,762.00 L332.57,763.90 M333.95,762.00 L331.72,761.27 " stroke="#111" stroke-width="1.05" stroke-linecap="round" fill="none"/><path d="M340.85,762.00 L340.85,759.65 M340.85,762.00 L343.08,761.27 M340.85,762.00 L342.23,763.90 M340.85,762.00 L339.47,763.90 M340.85,762.00 L338.62,761.27 " stroke="#111" stroke-width="1.05" stroke-linecap="round" fill="none"/><text x="75.0" y="277" font-family='"Liberation Serif", serif' font-size="12" font-weight="bold" text-anchor="start" textLength="40.4" lengthAdjust="spacingAndGlyphs" >no-drug</text><text x="139.3" y="277" font-family='"Liberation Serif", serif' font-size="12" font-weight="bold" text-anchor="start" textLength="55.5" lengthAdjust="spacingAndGlyphs" >IMATINIB</text><text x="220.0" y="277" font-family='"Liberation Serif", serif' font-size="12" font-weight="bold" text-anchor="start" textLength="49.3" lengthAdjust="spacingAndGlyphs" >SB216763</text><text x="293.8" y="277" font-family='"Liberation Serif", serif' font-size="12" font-weight="bold" text-anchor="start" textLength="55.4" lengthAdjust="spacingAndGlyphs" >IMATINIB</text><text x="299.8" y="286.2" font-family='"Liberation Serif", serif' font-size="12" font-weight="bold" text-anchor="start" textLength="49.4" lengthAdjust="spacingAndGlyphs" >SB216763</text><text x="367.7" y="277" font-family='"Liberation Serif", serif' font-size="12" font-weight="bold" text-anchor="start" textLength="65.1" lengthAdjust="spacingAndGlyphs" >DASATINIB</text><text x="444.2" y="277" font-family='"Liberation Serif", serif' font-size="12" font-weight="bold" text-anchor="start" textLength="66.1" lengthAdjust="spacingAndGlyphs" >DASATINIB</text><text x="457.8" y="286.2" font-family='"Liberation Serif", serif' font-size="12" font-weight="bold" text-anchor="start" textLength="48.2" lengthAdjust="spacingAndGlyphs" >SB216763</text><text x="75.0" y="562.4" font-family='"Liberation Serif", serif' font-size="12" font-weight="bold" text-anchor="start" textLength="40.4" lengthAdjust="spacingAndGlyphs" >no-drug</text><text x="139.3" y="562.4" font-family='"Liberation Serif", serif' font-size="12" font-weight="bold" text-anchor="start" textLength="55.5" lengthAdjust="spacingAndGlyphs" >IMATINIB</text><text x="220.0" y="562.4" font-family='"Liberation Serif", serif' font-size="12" font-weight="bold" text-anchor="start" textLength="49.3" lengthAdjust="spacingAndGlyphs" >SB216763</text><text x="293.8" y="562.4" font-family='"Liberation Serif", serif' font-size="12" font-weight="bold" text-anchor="start" textLength="55.4" lengthAdjust="spacingAndGlyphs" >IMATINIB</text><text x="299.8" y="571.6" font-family='"Liberation Serif", serif' font-size="12" font-weight="bold" text-anchor="start" textLength="49.4" lengthAdjust="spacingAndGlyphs" >SB216763</text><text x="367.7" y="562.4" font-family='"Liberation Serif", serif' font-size="12" font-weight="bold" text-anchor="start" textLength="65.1" lengthAdjust="spacingAndGlyphs" >DASATINIB</text><text x="444.2" y="562.4" font-family='"Liberation Serif", serif' font-size="12" font-weight="bold" text-anchor="start" textLength="66.1" lengthAdjust="spacingAndGlyphs" >DASATINIB</text><text x="457.8" y="571.6" font-family='"Liberation Serif", serif' font-size="12" font-weight="bold" text-anchor="start" textLength="48.2" lengthAdjust="spacingAndGlyphs" >SB216763</text><text x="80.2" y="859.3" font-family='"Liberation Serif", serif' font-size="12" font-weight="bold" text-anchor="start" textLength="39.6" lengthAdjust="spacingAndGlyphs" >no-drug</text><text x="147.3" y="859.3" font-family='"Liberation Serif", serif' font-size="12" font-weight="bold" text-anchor="start" textLength="55.5" lengthAdjust="spacingAndGlyphs" >IMATINIB</text><text x="227.7" y="859.3" font-family='"Liberation Serif", serif' font-size="12" font-weight="bold" text-anchor="start" textLength="50.4" lengthAdjust="spacingAndGlyphs" >SB216763</text><text x="302.0" y="859.3" font-family='"Liberation Serif", serif' font-size="12" font-weight="bold" text-anchor="start" textLength="55.1" lengthAdjust="spacingAndGlyphs" >IMATINIB</text><text x="305.0" y="869.0" font-family='"Liberation Serif", serif' font-size="12" font-weight="bold" text-anchor="start" textLength="49.0" lengthAdjust="spacingAndGlyphs" >SB216763</text><text x="376.0" y="859.3" font-family='"Liberation Serif", serif' font-size="12" font-weight="bold" text-anchor="start" textLength="63.6" lengthAdjust="spacingAndGlyphs" >DASATINIB</text><text x="452.6" y="859.3" font-family='"Liberation Serif", serif' font-size="12" font-weight="bold" text-anchor="start" textLength="65.1" lengthAdjust="spacingAndGlyphs" >DASATINIB</text><text x="462.8" y="869.0" font-family='"Liberation Serif", serif' font-size="12" font-weight="bold" text-anchor="start" textLength="49.2" lengthAdjust="spacingAndGlyphs" >SB216763</text><rect x="316.30" y="43.10" width="8" height="8" fill="#000"/><circle cx="320.30" cy="59.60" r="4" fill="#000"/><text x="336.2" y="51.3" font-family='"Liberation Serif", serif' font-size="12" font-weight="bold" text-anchor="start" textLength="27.5" lengthAdjust="spacingAndGlyphs" >CML</text><text x="376.2" y="51.3" font-family='"Liberation Serif", serif' font-size="12" font-weight="bold" text-anchor="start" textLength="43.8" lengthAdjust="spacingAndGlyphs" >LTC-IC</text><text x="330.0" y="62.2" font-family='"Liberation Serif", serif' font-size="12" font-weight="bold" text-anchor="start" textLength="42" lengthAdjust="spacingAndGlyphs" >Normal</text><text x="376.2" y="62.2" font-family='"Liberation Serif", serif' font-size="12" font-weight="bold" text-anchor="start" textLength="43.8" lengthAdjust="spacingAndGlyphs" >LTC-IC</text><rect x="316.00" y="339.90" width="8" height="8" fill="#000"/><circle cx="320.00" cy="357.00" r="4" fill="#000"/><text x="335.8" y="349.1" font-family='"Liberation Serif", serif' font-size="12" font-weight="bold" text-anchor="start" textLength="27.5" lengthAdjust="spacingAndGlyphs" >CML</text><text x="375.7" y="349.1" font-family='"Liberation Serif", serif' font-size="12" font-weight="bold" text-anchor="start" textLength="25.8" lengthAdjust="spacingAndGlyphs" >CFC</text><text x="330.0" y="360.2" font-family='"Liberation Serif", serif' font-size="12" font-weight="bold" text-anchor="start" textLength="41.5" lengthAdjust="spacingAndGlyphs" >Normal</text><text x="375.7" y="360.2" font-family='"Liberation Serif", serif' font-size="12" font-weight="bold" text-anchor="start" textLength="25.8" lengthAdjust="spacingAndGlyphs" >CFC</text><rect x="314.20" y="609.90" width="7" height="7" fill="#000"/><circle cx="317.70" cy="626.20" r="3.4" fill="#000"/><text x="332.7" y="618.0" font-family='"Liberation Serif", serif' font-size="13" font-weight="bold" text-anchor="start" textLength="159.6" lengthAdjust="spacingAndGlyphs" >10-days expansion + LTC-IC</text><text x="332.7" y="628.8" font-family='"Liberation Serif", serif' font-size="13" font-weight="bold" text-anchor="start" textLength="44.3" lengthAdjust="spacingAndGlyphs" >LTC-IC</text>
</svg>
</body></html>
